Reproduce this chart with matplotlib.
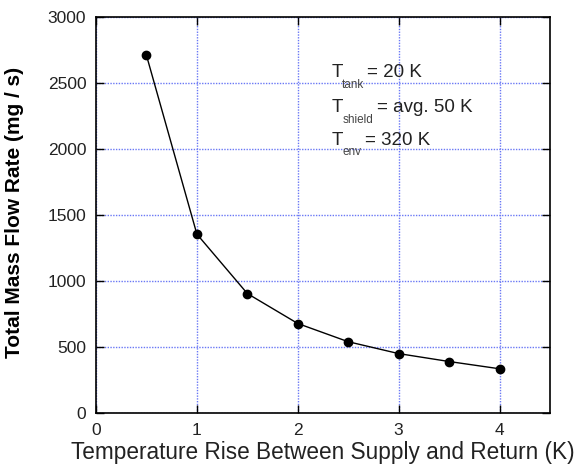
import matplotlib
matplotlib.use("Agg")
import matplotlib.pyplot as plt

plt.rcParams['font.family'] = ['Liberation Sans', 'DejaVu Sans']

# temperature rise (K) and total mass flow (mg/s)
delta_t = [0.5, 1.0, 1.5, 2.0, 2.5, 3.0, 3.5, 4.0]
mass_flow = [2710, 1355, 905, 678, 540, 450, 390, 335]

x_ticks = [0, 1, 2, 3, 4]
y_ticks = [0, 500, 1000, 1500, 2000, 2500, 3000]

# temperature labels: (symbol subscript, value text)
temp_labels = [("tank", "= 20 K"), ("shield", "= avg. 50 K"), ("env", "= 320 K")]

fig = plt.figure(figsize=(5.79, 4.69), dpi=100)
ax = fig.add_axes([96 / 579, 1 - 413 / 469, 454 / 579, 396 / 469])

ax.plot(delta_t, mass_flow, color='black', lw=1, marker='o', ms=6, zorder=3)

ax.set_xlim(0, 4.5)
ax.set_ylim(0, 3000)
ax.set_xticks(x_ticks)
ax.set_yticks(y_ticks)
ax.grid(True, color='#6a78f5', linestyle=(0, (1, 1)), lw=1.0)
ax.tick_params(direction='in', length=6, width=1, top=True, right=True,
               labelsize=12.5, pad=7, colors='black', labelcolor='#222222')
for s in ax.spines.values():
    s.set_linewidth(1.2)

ax.set_xlabel('Temperature Rise Between Supply and Return (K)', fontsize=16.3,
              labelpad=2, color='#222222')
ax.set_ylabel('Total Mass Flow Rate (mg / s)', fontsize=15, fontweight='bold')
ax.yaxis.set_label_coords(-0.159, 0.506)

# temperature annotations with small subscripts
rows_y = [2576, 2311, 2068]
value_x = [2.69, 2.79, 2.67]
for (sub, val), y, vx in zip(temp_labels, rows_y, value_x):
    ax.text(2.34, y, 'T', fontsize=13.5, va='center', ha='left', color='#222222')
    ax.text(2.44, y - 92, sub, fontsize=8.5, va='center', ha='left', color='#444444')
    ax.text(vx, y, val, fontsize=13.5, va='center', ha='left', color='#222222')

fig.savefig('out.png', dpi=100)
